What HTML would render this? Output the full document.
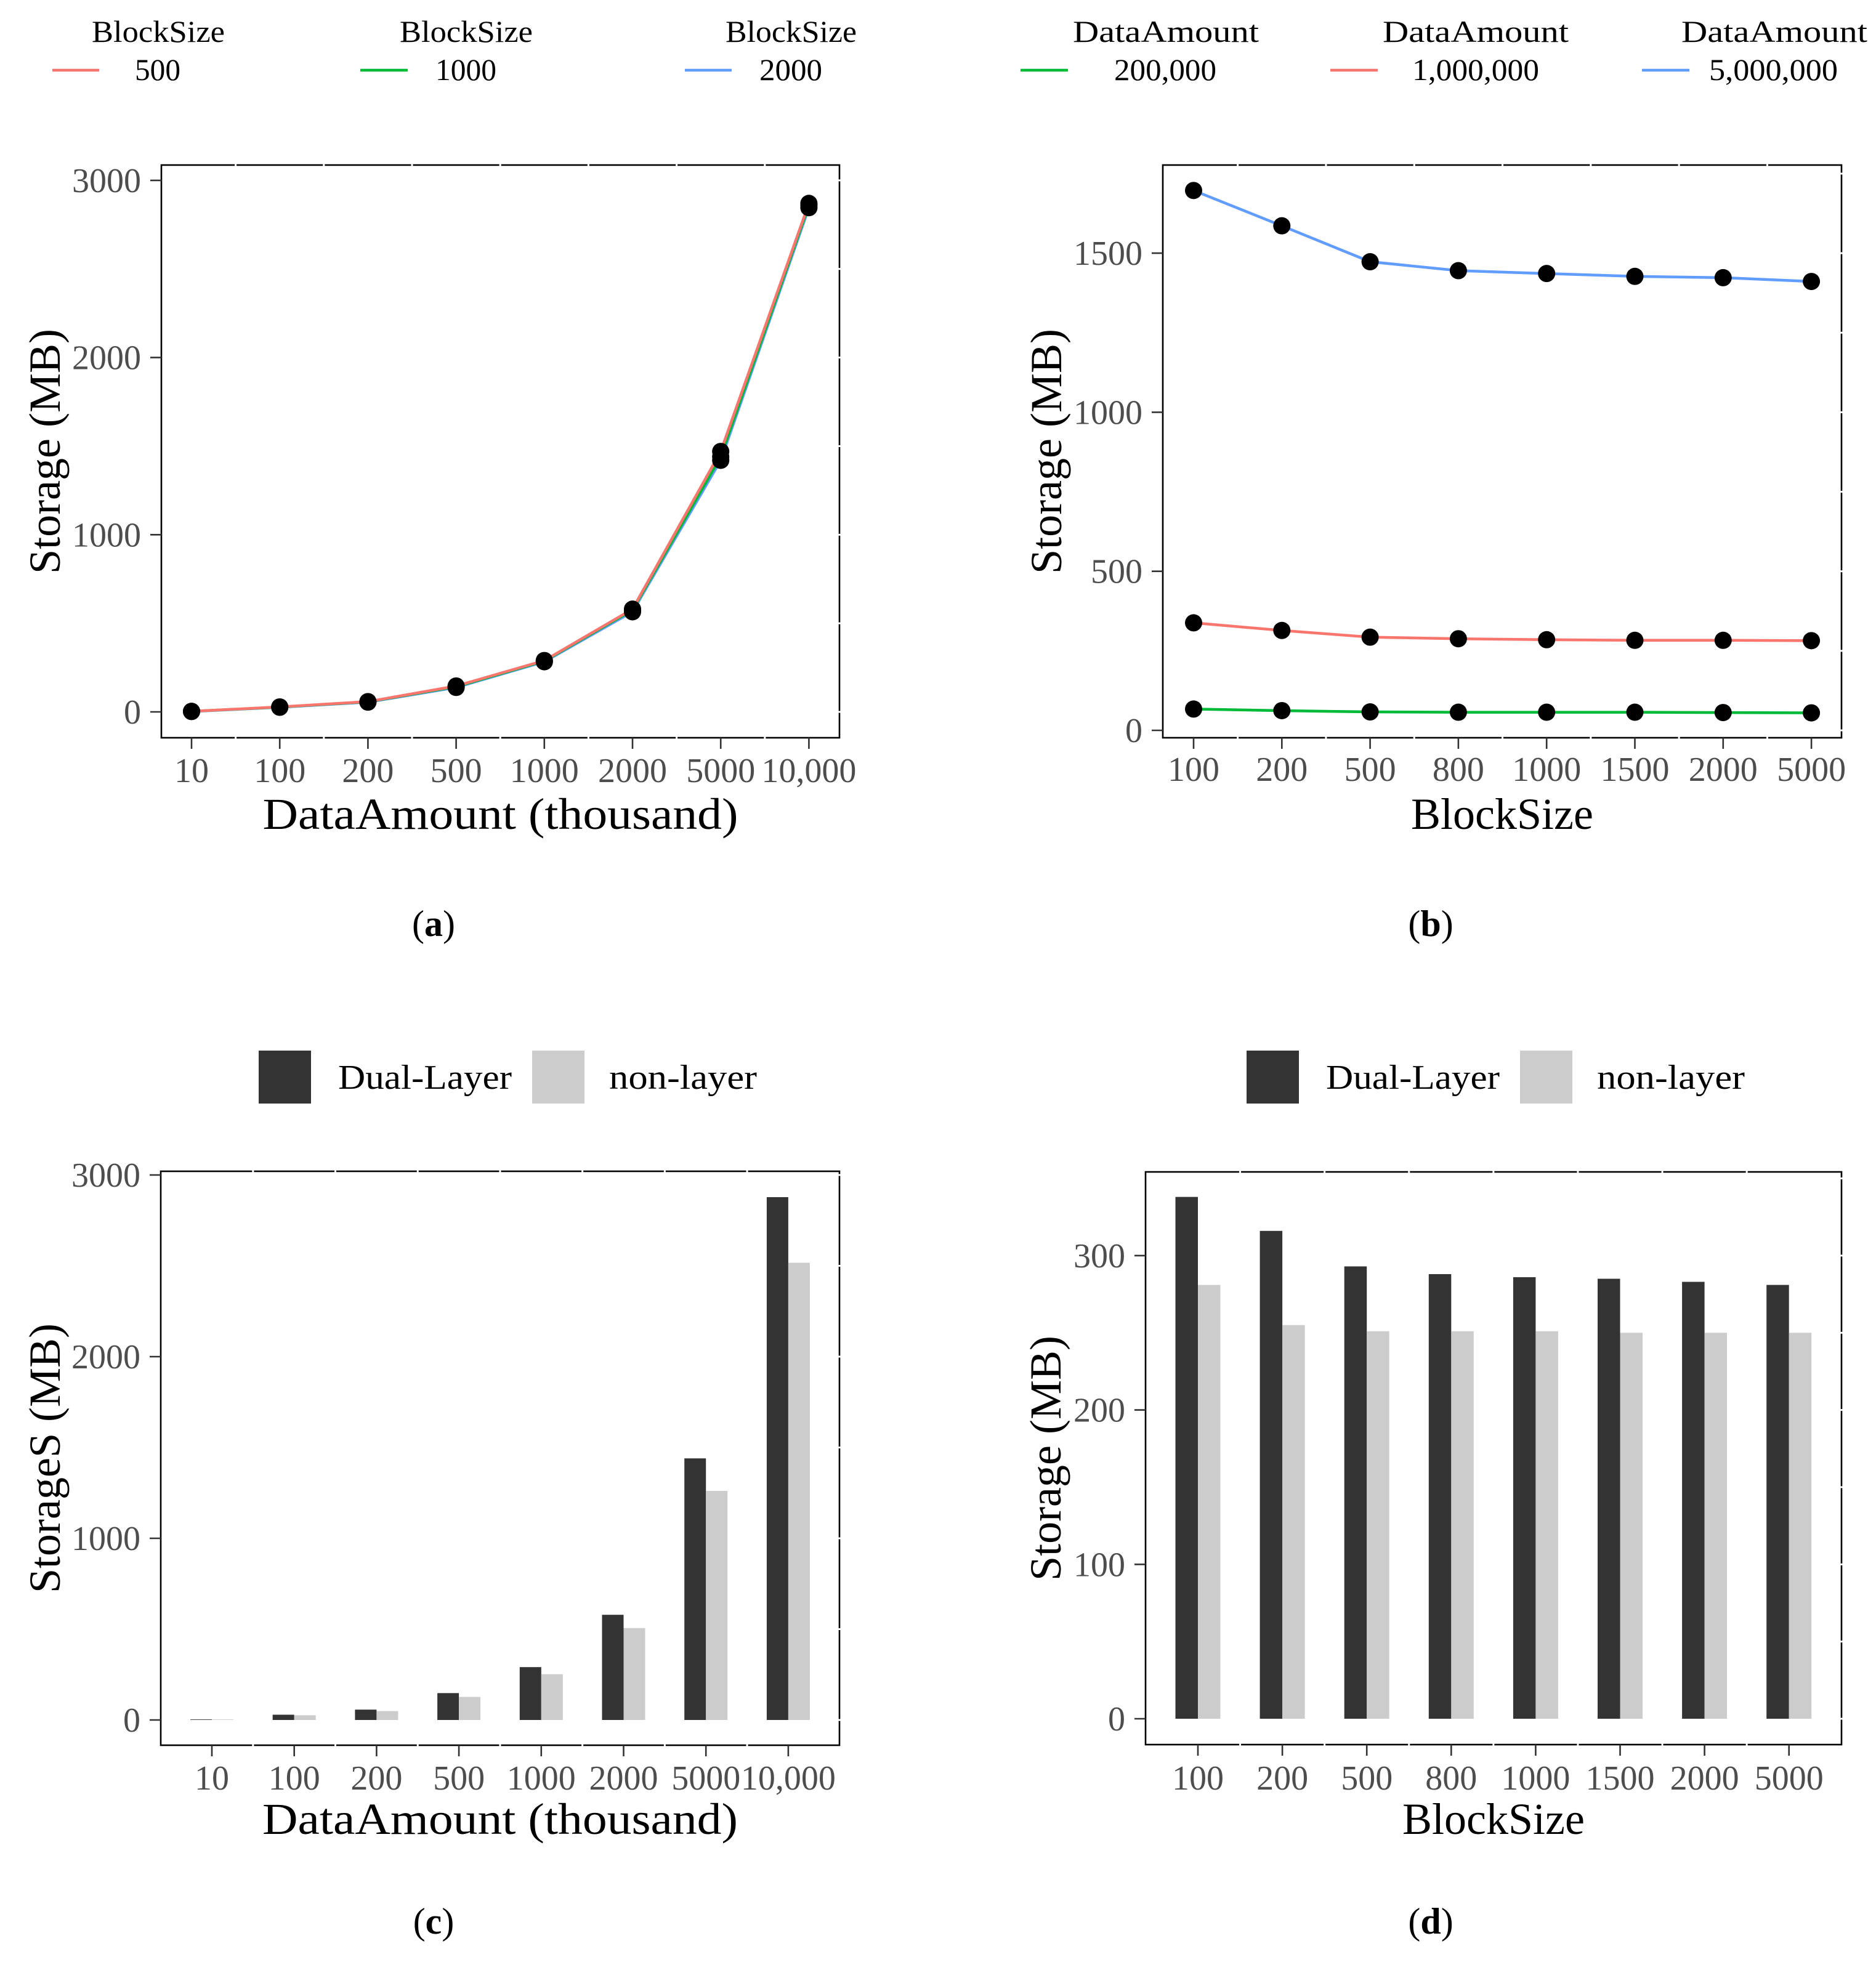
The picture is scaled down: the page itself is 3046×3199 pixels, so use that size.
<!DOCTYPE html>
<html><head><meta charset="utf-8"><style>
html,body{margin:0;padding:0;background:#fff;}
svg{display:block;}
text{font-family:"Liberation Serif",serif;}
</style></head><body>
<svg id="chart" xmlns="http://www.w3.org/2000/svg" width="3046" height="3199" viewBox="0 0 3046 3199">
<rect x="0" y="0" width="3046" height="3199" fill="#fff"/>
<g id="root"></g>
</svg>
<script>
// ---- Data ----
const catsA = ["10","100","200","500","1000","2000","5000","10,000"];
const serA500 = [3, 28, 58, 146, 290, 580, 1470, 2870];
const serA1000 = [3, 27, 57, 142, 287, 575, 1440, 2860];
const serA2000 = [2, 26, 55, 138, 283, 565, 1420, 2846];
const ticksA = [0, 1000, 2000, 3000];

const catsB = ["100","200","500","800","1000","1500","2000","5000"];
const serB200k = [67, 62, 58, 57, 57, 57, 56, 55];
const serB1m = [338, 314, 293, 288, 285, 283, 283, 282];
const serB5m = [1697, 1586, 1473, 1445, 1436, 1427, 1423, 1411];
const ticksB = [0, 500, 1000, 1500];

const catsC = ["10","100","200","500","1000","2000","5000","10,000"];
const dualC = [3, 29, 57, 148, 291, 579, 1440, 2878];
const nonC = [3, 26, 49, 127, 252, 506, 1261, 2517];
const ticksC = [0, 1000, 2000, 3000];

const catsD = ["100","200","500","800","1000","1500","2000","5000"];
const dualD = [338, 316, 293, 288, 286, 285, 283, 281];
const nonD = [281, 255, 251, 251, 251, 250, 250, 250];
const ticksD = [0, 100, 200, 300];

const NS = "http://www.w3.org/2000/svg";
const root = document.getElementById("root");
function mk(tag, attrs, parent, txt) {
  const e = document.createElementNS(NS, tag);
  for (const k in attrs) e.setAttribute(k, attrs[k]);
  if (txt !== undefined) e.textContent = txt;
  (parent || root).appendChild(e);
  return e;
}
const RED = "#F8766D", GREEN = "#00BA38", BLUE = "#619CFF";

function panel(cfg) {
  const g = mk("g", {});
  
  
  const L = cfg.L, R = cfg.R, T = cfg.T, B = cfg.B;
  const y = v => cfg.y0 - (v - cfg.v0) * cfg.ky;
  const x = i => cfg.x0 + i * cfg.dx;
  const marks = mk("g", {}, g);
  
  
  if (cfg.lines) {
    cfg.lines.forEach(s => {
      const pts = s.vals.map((v, i) => x(i).toFixed(1) + "," + y(v).toFixed(1)).join(" ");
      const pl = mk("polyline", {points: pts, fill: "none", stroke: s.color, "stroke-width": 4.5}, marks);
      
      
    });
    cfg.lines.forEach(s => {
      s.vals.forEach((v, i) => {
        const c = mk("circle", {cx: x(i), cy: y(v), r: 14, fill: "#000"}, marks);
        
        
      });
    });
  }
  if (cfg.bars) {
    cfg.bars.forEach((s, si) => {
      s.vals.forEach((v, i) => {
        const bx = x(i) + (si === 0 ? -cfg.bw : 0);
        const r = mk("rect", {x: bx, y: y(v), width: cfg.bw, height: Math.max(0.8, y(0) - y(v)), fill: s.color}, marks);
        
        
      });
    });
  }
  const br = mk("rect", {x: L, y: T, width: R - L, height: B - T, fill: "none", stroke: "#000", "stroke-width": 2.6}, g);
  
  
  for (let i = 0; i < cfg.cats.length - 1; i++) {
    const mx = (x(i) + x(i + 1)) / 2;
    mk("line", {x1: mx, x2: mx, y1: T - 3, y2: T + 3, stroke: "#fff", "stroke-width": 3}, g);
    mk("line", {x1: mx, x2: mx, y1: B - 3, y2: B + 3, stroke: "#fff", "stroke-width": 3}, g);
  }
  const step = cfg.ticks[1] - cfg.ticks[0];
  for (let v = cfg.ticks[0]; v <= cfg.ticks[cfg.ticks.length - 1] + step / 2; v += step / 2) {
    const yy = y(v);
    if (yy > T + 4 && yy < B - 4) mk("line", {x1: R - 3, x2: R + 3, y1: yy, y2: yy, stroke: "#fff", "stroke-width": 3}, g);
  }
  cfg.ticks.forEach(v => {
    mk("line", {x1: L - 18, x2: L, y1: y(v), y2: y(v), stroke: "#333", "stroke-width": 2.6}, g);
    const t = mk("text", {x: L - 33, y: y(v) + 19, "text-anchor": "end", "font-size": 56, fill: "#4d4d4d"}, g, String(v));
    
    
  });
  cfg.cats.forEach((c, i) => {
    mk("line", {x1: x(i), x2: x(i), y1: B, y2: B + 18, stroke: "#333", "stroke-width": 2.6}, g);
    const t = mk("text", {x: x(i), y: cfg.xlabY, "text-anchor": "middle", "font-size": 56, fill: "#4d4d4d"}, g, c);
    
    
  });
  const xa = {x: (L + R) / 2, y: cfg.xtitleY, "text-anchor": "middle", "font-size": 72, fill: "#000"};
  if (cfg.xtw) { xa.textLength = cfg.xtw; xa.lengthAdjust = "spacingAndGlyphs"; }
  const xt = mk("text", xa, g, cfg.xtitle);
  
  
  const cy = (T + B) / 2;
  const yt = mk("text", {x: 0, y: 0, "text-anchor": "middle", "font-size": 72, fill: "#000", transform: "translate(" + cfg.ytitleX + "," + cy + ") rotate(-90)"}, g, cfg.ytitle);
  
  
  const cap = mk("text", {x: cfg.capX, y: cfg.capY, "text-anchor": "middle", "font-size": 60, fill: "#000"}, g);
  
  
  mk("tspan", {}, cap, "(");
  mk("tspan", {"font-weight": "bold"}, cap, cfg.cap);
  mk("tspan", {}, cap, ")");
}

panel({name: "panel-a", L: 262, R: 1363, T: 268, B: 1198, y0: 1156, v0: 0, ky: 287.7 / 1000,
  x0: 311, dx: 143.2, cats: catsA, ticks: ticksA, xlabY: 1270, xtitleY: 1346, xtitle: "DataAmount (thousand)", xtw: 772,
  ytitle: "Storage (MB)", ytitleX: 97, cap: "a", capX: 704, capY: 1520,
  lines: [{id: "blocksize-2000", vals: serA2000, color: BLUE}, {id: "blocksize-1000", vals: serA1000, color: GREEN}, {id: "blocksize-500", vals: serA500, color: RED}]});

panel({name: "panel-b", L: 1888, R: 2990, T: 268, B: 1198, y0: 1186, v0: 0, ky: 258.3 / 500,
  x0: 1938, dx: 143.3, cats: catsB, ticks: ticksB, xlabY: 1268, xtitleY: 1346, xtitle: "BlockSize",
  ytitle: "Storage (MB)", ytitleX: 1723, cap: "b", capX: 2323, capY: 1520,
  lines: [{id: "data-5m", vals: serB5m, color: BLUE}, {id: "data-1m", vals: serB1m, color: RED}, {id: "data-200k", vals: serB200k, color: GREEN}]});

panel({name: "panel-c", L: 261, R: 1363, T: 1902, B: 2834, y0: 2793, v0: 0, ky: 295 / 1000,
  x0: 344, dx: 133.7, bw: 35, cats: catsC, ticks: ticksC, xlabY: 2906, xtitleY: 2978, xtitle: "DataAmount (thousand)", xtw: 772,
  ytitle: "StorageS (MB)", ytitleX: 97, cap: "c", capX: 704, capY: 3140,
  bars: [{id: "dual-layer", vals: dualC, color: "#333333"}, {id: "non-layer", vals: nonC, color: "#cccccc"}]});

panel({name: "panel-d", L: 1860, R: 2990, T: 1903, B: 2833, y0: 2791, v0: 0, ky: 250.7 / 100,
  x0: 1945, dx: 137.1, bw: 36.5, cats: catsD, ticks: ticksD, xlabY: 2906, xtitleY: 2978, xtitle: "BlockSize",
  ytitle: "Storage (MB)", ytitleX: 1722, cap: "d", capX: 2323, capY: 3140,
  bars: [{id: "dual-layer", vals: dualD, color: "#333333"}, {id: "non-layer", vals: nonD, color: "#cccccc"}]});

function lineLegend(items) {
  items.forEach(it => {
    const g = mk("g", {});
    
    
    mk("text", {x: it.tx, y: 68, "font-size": 50, textLength: it.tw, lengthAdjust: "spacingAndGlyphs", fill: "#000"}, g, it.title);
    mk("line", {x1: it.k1, x2: it.k2, y1: 114, y2: 114, stroke: it.color, "stroke-width": 4.5}, g);
    mk("text", {x: it.lx, y: 130, "font-size": 50, textLength: it.lw, lengthAdjust: "spacingAndGlyphs", fill: "#000"}, g, it.label);
  });
}
lineLegend([
  {title: "BlockSize", tx: 149, tw: 216, k1: 85, k2: 161, color: RED, label: "500", lx: 219, lw: 74},
  {title: "BlockSize", tx: 649, tw: 216, k1: 585, k2: 662, color: GREEN, label: "1000", lx: 707, lw: 99},
  {title: "BlockSize", tx: 1178, tw: 213, k1: 1112, k2: 1188, color: BLUE, label: "2000", lx: 1233, lw: 102},
  {title: "DataAmount", tx: 1742, tw: 302, k1: 1657, k2: 1734, color: GREEN, label: "200,000", lx: 1809, lw: 166},
  {title: "DataAmount", tx: 2245, tw: 302, k1: 2160, k2: 2237, color: RED, label: "1,000,000", lx: 2293, lw: 206},
  {title: "DataAmount", tx: 2730, tw: 302, k1: 2666, k2: 2743, color: BLUE, label: "5,000,000", lx: 2775, lw: 209}
]);

function barLegend(off) {
  const g = mk("g", {});
  
  
  mk("rect", {x: 420 + off, y: 1706, width: 85, height: 86, fill: "#333333"}, g);
  mk("text", {x: 549 + off, y: 1768, "font-size": 56, textLength: 282, lengthAdjust: "spacingAndGlyphs", fill: "#000"}, g, "Dual-Layer");
  mk("rect", {x: 864 + off, y: 1706, width: 85, height: 86, fill: "#cccccc"}, g);
  mk("text", {x: 989 + off, y: 1768, "font-size": 56, textLength: 240, lengthAdjust: "spacingAndGlyphs", fill: "#000"}, g, "non-layer");
}
barLegend(0);
barLegend(1604);
</script>
</body></html>
